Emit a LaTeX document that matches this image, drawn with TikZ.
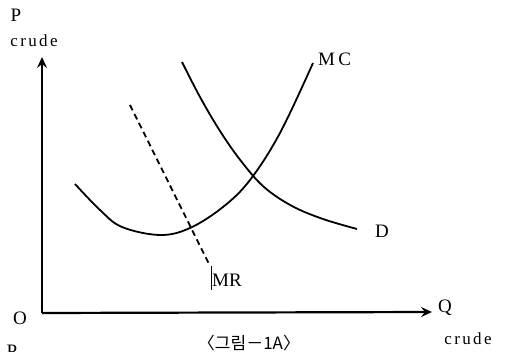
\documentclass[tikz,border=0pt]{standalone}
\usepackage{fontspec}
\setmainfont{Liberation Serif}
\newfontfamily\krfont{Noto Sans CJK KR}
\usetikzlibrary{arrows.meta}
\begin{document}
\begin{tikzpicture}[x=1pt,y=-1pt,
  axis/.style={line width=2.2pt,-{Stealth[length=11pt,width=10pt,inset=4pt]}},
  curve/.style={line width=1.8pt},
  lbl/.style={inner sep=0pt,font=\fontsize{19}{19}\selectfont},
  spaced/.style={inner sep=0pt,font=\fontsize{17}{17}\selectfont\addfontfeatures{LetterSpace=14}}]
\useasboundingbox (0,0) rectangle (508,352);
\coordinate (O) at (42,313);
\coordinate (ytop) at (42,57);
\coordinate (xend) at (432,312);
\draw[axis] (O) -- (ytop);
\draw[axis] (O) -- (xend);
\node[lbl] (P) at (16,15) {P};
\node[spaced] (pc) at (34,41) {crude};
\node[lbl] (o) at (20,318) {O};
\node[lbl] (Q) at (445,308) {Q};
\node[spaced] (qc) at (468,339) {crude};
\node[lbl,anchor=north] (P2) at (12,345) {P};
% MC
\draw[curve] plot[smooth,tension=0.6] coordinates {(75,184) (100,210) (122,227) (160,235) (190,228) (223,207) (250,180) (280,133) (313,63)};
\node[lbl,anchor=west] (mc) at (318,59) {M\,C};
% D
\draw[curve] plot[smooth,tension=0.6] coordinates {(182,62) (200,97) (220,131) (241,161) (264,187) (292,206) (323,219) (357,229)};
\node[lbl,anchor=west] (d) at (375,231) {D};
% MR
\coordinate (mr1) at (130,105);
\coordinate (mr2) at (210,266);
\draw[curve,dash pattern=on 6pt off 4pt] (mr1) -- (mr2);
\coordinate (t1) at (211,266);
\coordinate (t2) at (211,290);
\draw[line width=1pt] (t1) -- (t2);
\node[lbl,anchor=west] (mr) at (212,280) {MR};
\node[inner sep=0pt,font=\krfont\fontsize{17}{17}\selectfont] (cap) at (249,343) {〈그림－1A〉};
\end{tikzpicture}
\end{document}
